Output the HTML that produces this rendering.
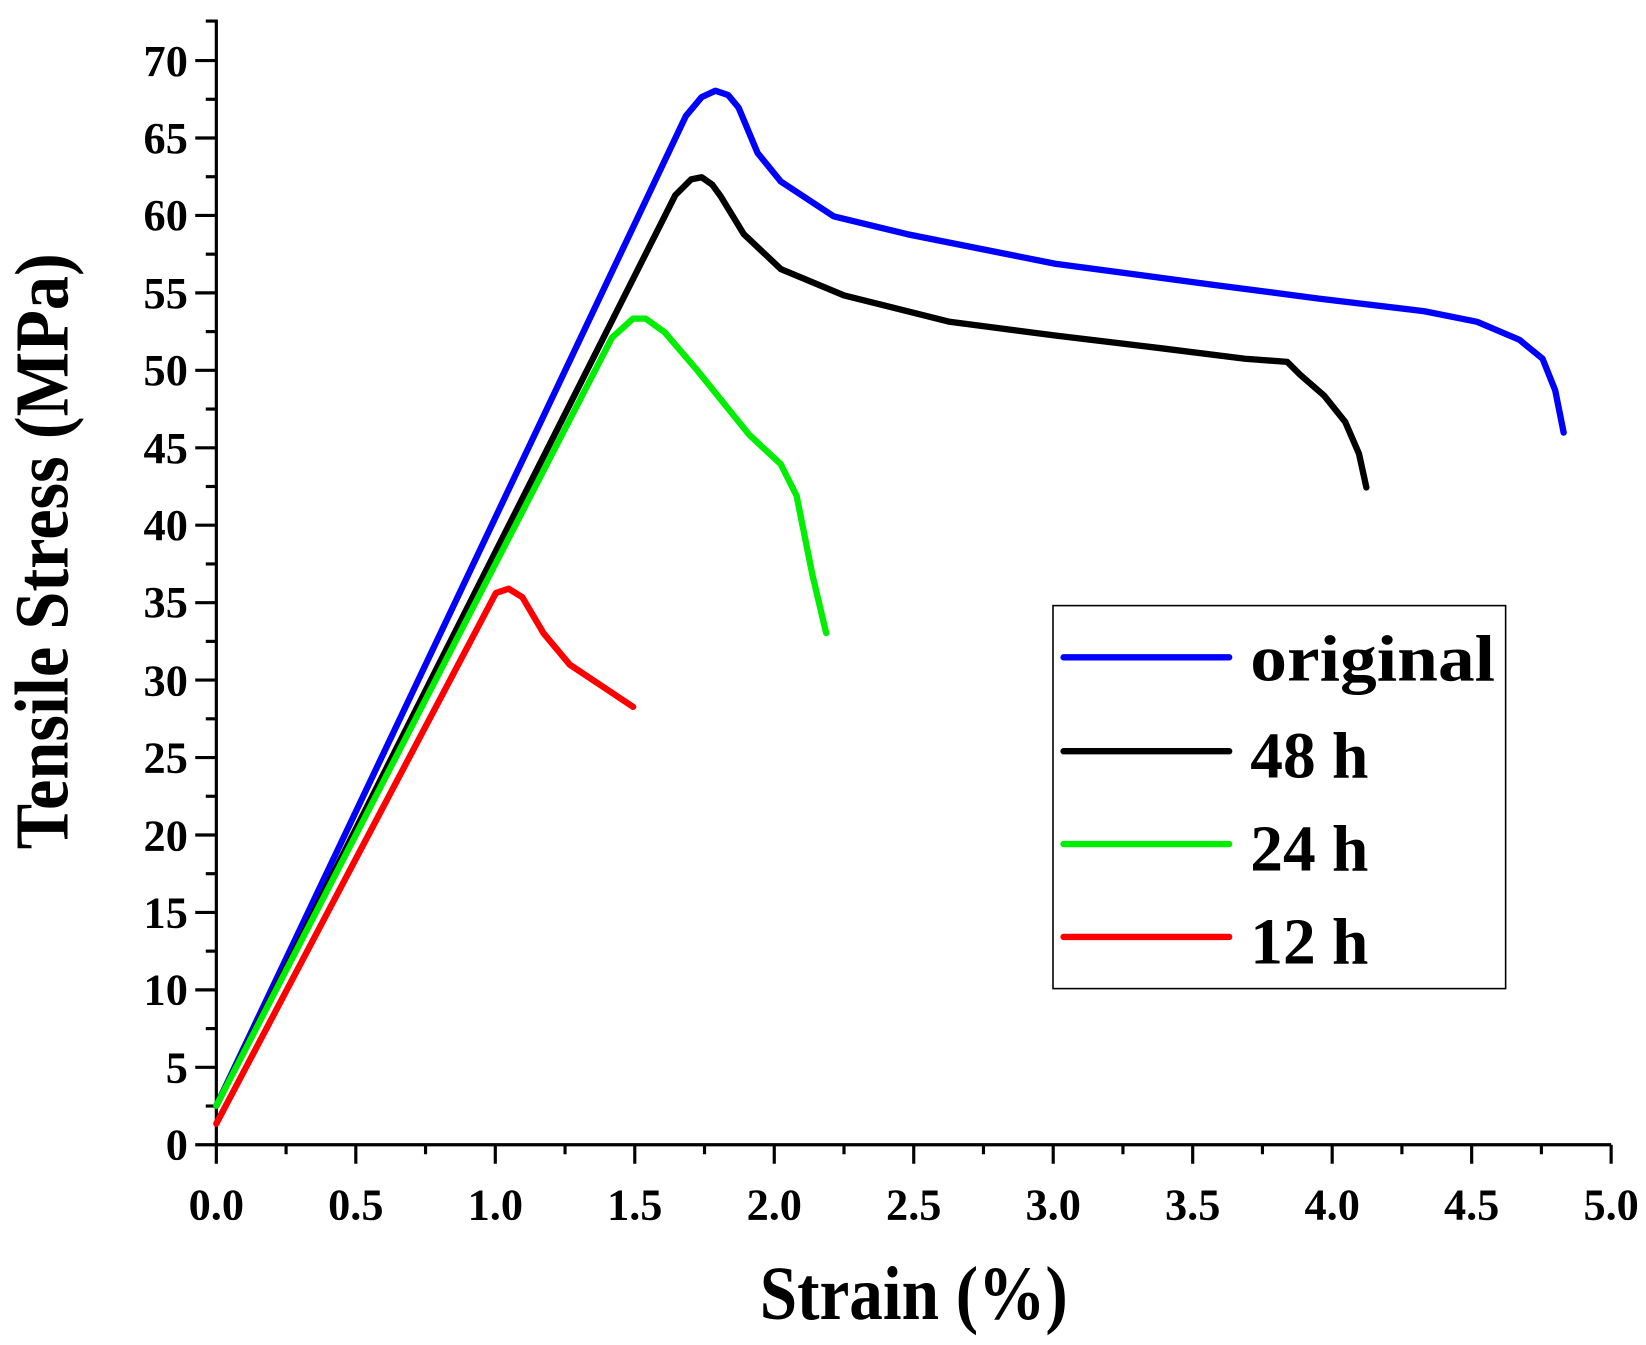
<!DOCTYPE html>
<html><head><style>html,body{margin:0;padding:0;background:#fff}svg{display:block}</style></head>
<body>
<svg width="1646" height="1345" viewBox="0 0 1560 1274.8" xmlns="http://www.w3.org/2000/svg" font-family="Liberation Serif, serif" font-weight="bold">
<g stroke="#000" stroke-width="3" fill="none">
<path d="M195,20 H205 V1085 H1527"/>
<path id="yt" d=""/>
</g>
<g stroke="#000" stroke-width="3">
<line x1="185" y1="1085.0" x2="205" y2="1085.0"/><line x1="195" y1="1048.3" x2="205" y2="1048.3"/>
<line x1="185" y1="1011.6" x2="205" y2="1011.6"/><line x1="195" y1="974.9" x2="205" y2="974.9"/>
<line x1="185" y1="938.2" x2="205" y2="938.2"/><line x1="195" y1="901.5" x2="205" y2="901.5"/>
<line x1="185" y1="864.8" x2="205" y2="864.8"/><line x1="195" y1="828.1" x2="205" y2="828.1"/>
<line x1="185" y1="791.4" x2="205" y2="791.4"/><line x1="195" y1="754.7" x2="205" y2="754.7"/>
<line x1="185" y1="718.0" x2="205" y2="718.0"/><line x1="195" y1="681.3" x2="205" y2="681.3"/>
<line x1="185" y1="644.6" x2="205" y2="644.6"/><line x1="195" y1="607.9" x2="205" y2="607.9"/>
<line x1="185" y1="571.2" x2="205" y2="571.2"/><line x1="195" y1="534.5" x2="205" y2="534.5"/>
<line x1="185" y1="497.8" x2="205" y2="497.8"/><line x1="195" y1="461.1" x2="205" y2="461.1"/>
<line x1="185" y1="424.4" x2="205" y2="424.4"/><line x1="195" y1="387.7" x2="205" y2="387.7"/>
<line x1="185" y1="351.0" x2="205" y2="351.0"/><line x1="195" y1="314.3" x2="205" y2="314.3"/>
<line x1="185" y1="277.6" x2="205" y2="277.6"/><line x1="195" y1="240.9" x2="205" y2="240.9"/>
<line x1="185" y1="204.2" x2="205" y2="204.2"/><line x1="195" y1="167.5" x2="205" y2="167.5"/>
<line x1="185" y1="130.8" x2="205" y2="130.8"/><line x1="195" y1="94.1" x2="205" y2="94.1"/>
<line x1="185" y1="57.4" x2="205" y2="57.4"/>
<line x1="205" y1="1085" x2="205" y2="1103"/><line x1="271.1" y1="1085" x2="271.1" y2="1094"/>
<line x1="337.2" y1="1085" x2="337.2" y2="1103"/><line x1="403.3" y1="1085" x2="403.3" y2="1094"/>
<line x1="469.4" y1="1085" x2="469.4" y2="1103"/><line x1="535.5" y1="1085" x2="535.5" y2="1094"/>
<line x1="601.6" y1="1085" x2="601.6" y2="1103"/><line x1="667.7" y1="1085" x2="667.7" y2="1094"/>
<line x1="733.8" y1="1085" x2="733.8" y2="1103"/><line x1="799.9" y1="1085" x2="799.9" y2="1094"/>
<line x1="866" y1="1085" x2="866" y2="1103"/><line x1="932.1" y1="1085" x2="932.1" y2="1094"/>
<line x1="998.2" y1="1085" x2="998.2" y2="1103"/><line x1="1064.3" y1="1085" x2="1064.3" y2="1094"/>
<line x1="1130.4" y1="1085" x2="1130.4" y2="1103"/><line x1="1196.5" y1="1085" x2="1196.5" y2="1094"/>
<line x1="1262.6" y1="1085" x2="1262.6" y2="1103"/><line x1="1328.7" y1="1085" x2="1328.7" y2="1094"/>
<line x1="1394.8" y1="1085" x2="1394.8" y2="1103"/><line x1="1460.9" y1="1085" x2="1460.9" y2="1094"/>
<line x1="1527" y1="1085" x2="1527" y2="1103"/>
</g>
<g font-size="42" text-anchor="end">
<text x="178" y="1099">0</text><text x="178" y="1026">5</text><text x="178" y="952">10</text>
<text x="178" y="879">15</text><text x="178" y="806">20</text><text x="178" y="732">25</text>
<text x="178" y="659">30</text><text x="178" y="585">35</text><text x="178" y="512">40</text>
<text x="178" y="439">45</text><text x="178" y="365">50</text><text x="178" y="292">55</text>
<text x="178" y="218">60</text><text x="178" y="145">65</text><text x="178" y="72">70</text>
</g>
<g font-size="42" text-anchor="middle">
<text x="205" y="1156">0.0</text><text x="337.2" y="1156">0.5</text><text x="469.4" y="1156">1.0</text>
<text x="601.6" y="1156">1.5</text><text x="733.8" y="1156">2.0</text><text x="866" y="1156">2.5</text>
<text x="998.2" y="1156">3.0</text><text x="1130.4" y="1156">3.5</text><text x="1262.6" y="1156">4.0</text>
<text x="1394.8" y="1156">4.5</text><text x="1527" y="1156">5.0</text>
</g>
<text x="720" y="1250" font-size="72" textLength="292" lengthAdjust="spacingAndGlyphs">Strain (%)</text>
<text transform="translate(64,805) rotate(-90)" font-size="72" textLength="565" lengthAdjust="spacingAndGlyphs">Tensile Stress (MPa)</text>
<g fill="none" stroke-width="6" stroke-linejoin="round" stroke-linecap="round">
<polyline stroke="#0000ff" points="205,1048 650,110 665,92 678,86 690,90 700,102 718,145 740,172 790,205 860,222 1000,250 1150,270 1250,283 1350,295 1400,305 1440,322 1462,340 1474,370 1482,410"/>
<polyline stroke="#000" points="205,1048 640,185 655,170 665,168 675,175 683,186 705,222 740,255 800,280 900,305 1000,318 1100,330 1180,340 1220,343 1232,355 1255,375 1275,400 1288,430 1295,462"/>
<polyline stroke="#00ee00" points="205,1048 580,320 600,302 612,302 630,315 660,350 710,412 740,440 755,470 770,545 783,600"/>
<polyline stroke="#ff0000" points="205,1065 450,600 470,562 482,558 495,566 515,600 540,630 570,650 600,670"/>
</g>
<rect x="998" y="574" width="429" height="363" fill="none" stroke="#000" stroke-width="1.5"/>
<g stroke-width="6" stroke-linecap="round">
<line x1="1008" y1="623" x2="1165" y2="623" stroke="#0000ff"/>
<line x1="1008" y1="712" x2="1165" y2="712" stroke="#000"/>
<line x1="1008" y1="800" x2="1165" y2="800" stroke="#00ee00"/>
<line x1="1008" y1="888" x2="1165" y2="888" stroke="#ff0000"/>
</g>
<g font-size="62">
<text x="1185" y="645" textLength="232" lengthAdjust="spacingAndGlyphs">original</text>
<text x="1185" y="737">48 h</text>
<text x="1185" y="825">24 h</text>
<text x="1185" y="913">12 h</text>
</g>
</svg>
</body></html>
